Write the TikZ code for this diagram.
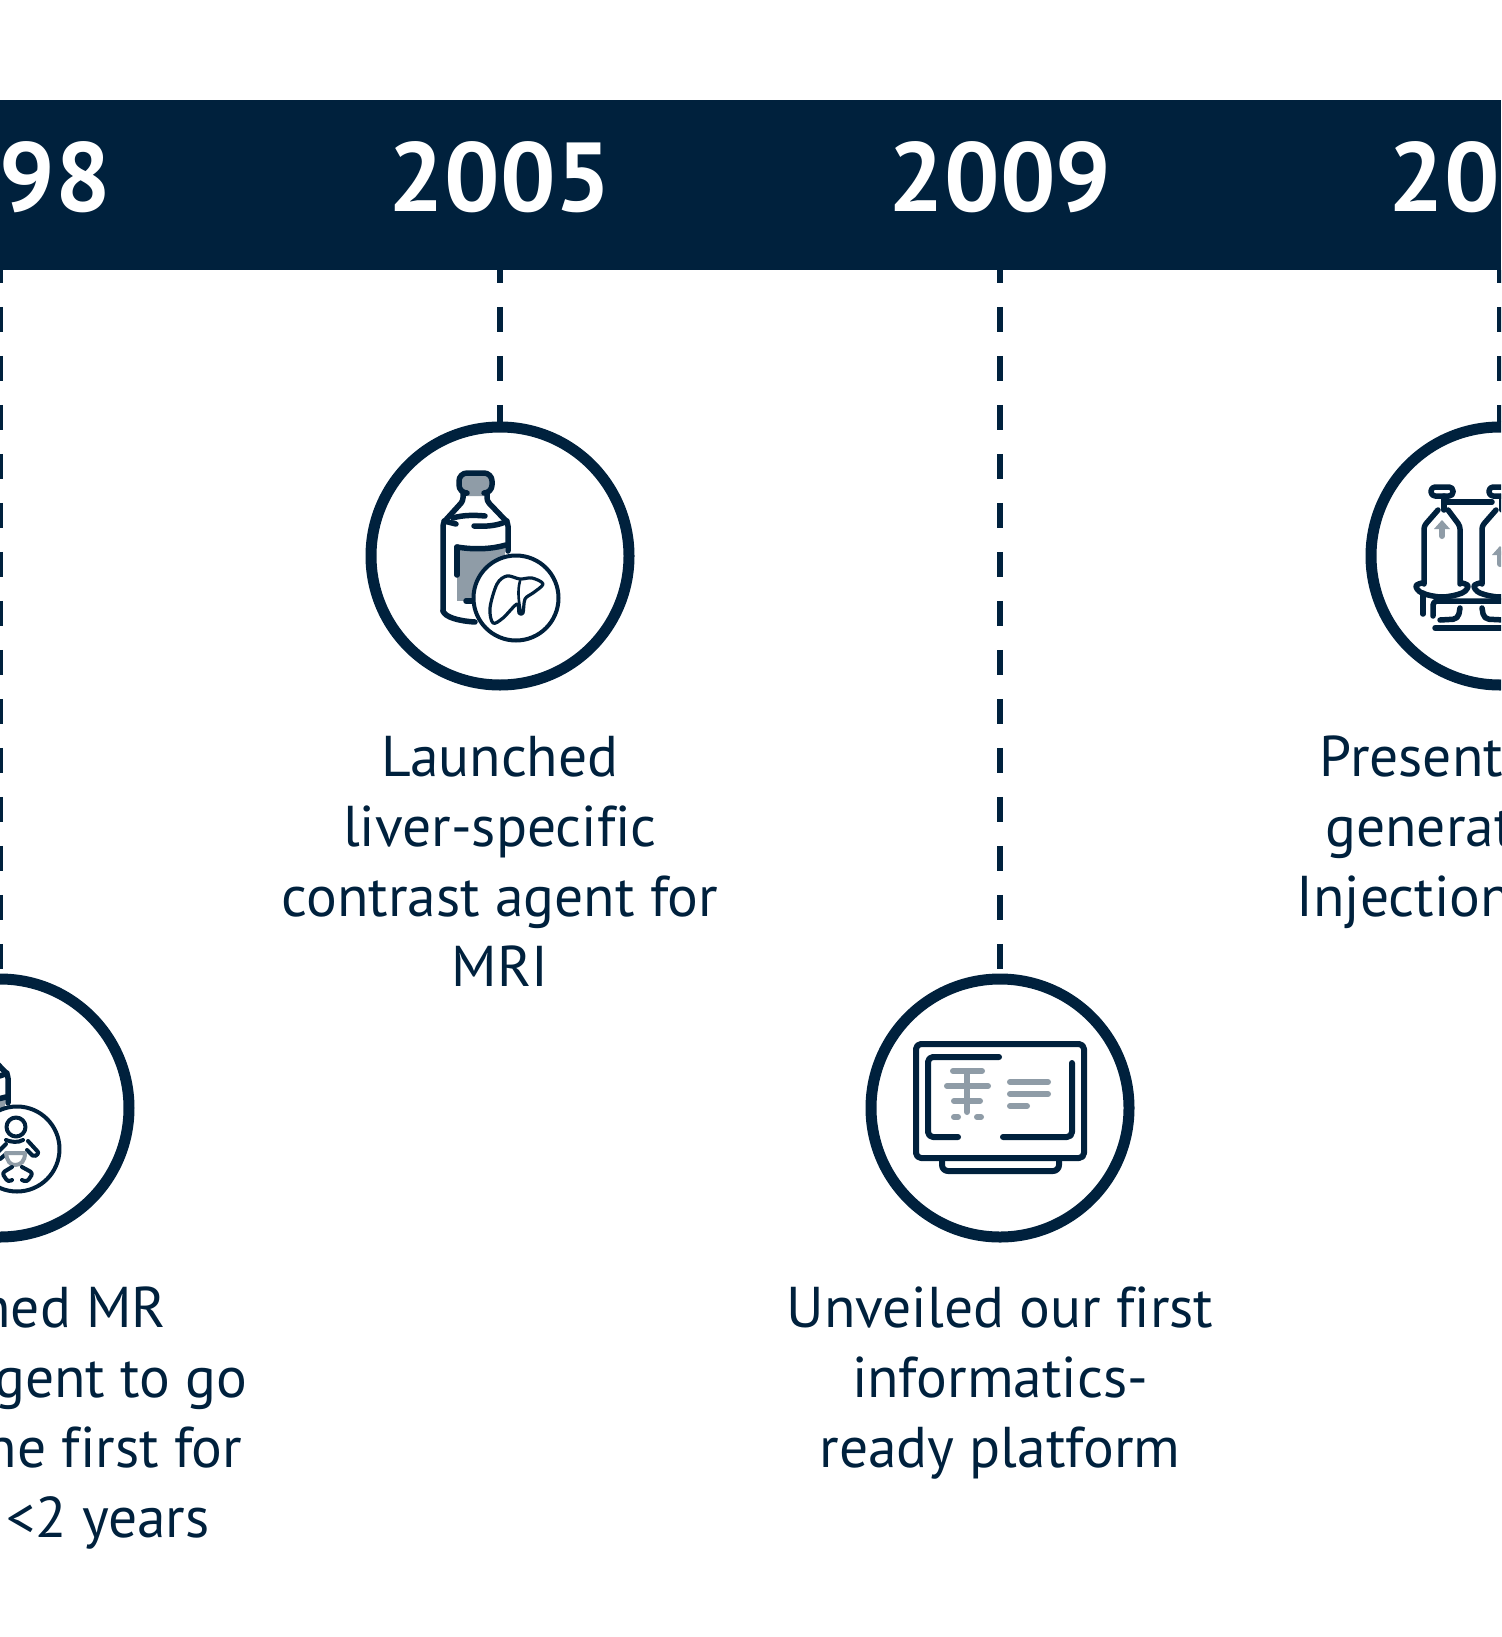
\documentclass[tikz,border=0pt]{standalone}
\usepackage{xcolor}
\usepackage{fontspec}
\setmainfont[Ligatures=NoCommon]{PT Sans}
\definecolor{qqccdd}{RGB}{0,33,61}
\definecolor{ttaabb}{RGB}{143,156,167}
\tikzset{
  yearlabel/.style={text=white,font=\fontsize{98}{98}\selectfont\bfseries,anchor=base},
  milestone/.style={circle,draw=qqccdd,line width=11pt,fill=white,minimum size=258pt,inner sep=0pt},
  milestonetext/.style={text=qqccdd,font=\fontsize{57.5}{70}\selectfont,align=center,anchor=north,inner sep=0pt},
  stem/.style={draw=qqccdd,line width=6.5pt,line cap=butt,dash pattern=on 25pt off 24pt,dash phase=12.5pt},
  iconline/.style={draw=qqccdd,line width=5.5pt},
  badge/.style={circle,draw=qqccdd,line width=4pt,fill=white,minimum size=85pt,inner sep=0pt},
  iconfill/.style={draw=ttaabb,line width=6pt}
}
% vial with its label, drawn round the centre of a milestone
\newcommand{\vialicon}{
\fill [ttaabb] (-43,-10) rectangle (5,45);
\fill [ttaabb,rounded corners=7pt] (-41,-83) rectangle (-8,-60);
\draw [iconline,rounded corners=8pt] (-35,-63) -- (-41,-63) -- (-41,-83) -- (-8,-83) -- (-8,-63) -- (-16,-63);
\draw [iconline,rounded corners=3pt] (-37,-63) -- (-37,-55) -- (-57,-33) -- (-57,55);
\draw [iconline] (-57,55) .. controls (-55,61) and (-42,65) .. (-25,66);
\draw [iconline,rounded corners=3pt] (-13,-63) -- (-13,-55) -- (8,-33) -- (8,-5);
\draw [iconline] (-47,-38) .. controls (-38,-41) and (-25,-41) .. (-15,-40);
\draw [iconline] (-56,-35) -- (-44,-32);
\draw [iconline] (-26,-30) .. controls (-12,-29) and (0,-31) .. (7,-35);
\draw [iconline] (-43,-9) .. controls (-25,-6) and (-8,-7) .. (6,-11);
\draw [iconline] (-43,-9) -- (-43,19);
\draw [iconline] (-34,45) -- (-27,45);
}
% liver inside the badge
\newcommand{\livericon}{
\draw [draw=qqccdd,line width=3.2pt,line join=round] plot [smooth cycle,tension=0.55] coordinates {(-7,67) (-10,52) (-3,28) (7,20) (20,23) (32,22) (43,28) (33,37) (25,43) (23,57) (19,57) (17,48) (3,62)};
\draw [draw=qqccdd,line width=2.6pt] (20,25) .. controls (17,35) and (19,48) .. (21,56);
}
% baby inside the badge
\newcommand{\babyicon}{
\draw [draw=qqccdd,line width=4pt] (16,19) circle (9.5pt);
\draw [draw=qqccdd,line width=4pt] (6,32) .. controls (11,34) and (18,35) .. (23,32);
\draw [draw=qqccdd,line width=4pt,rounded corners=2pt] (28,33) -- (39,45) -- (34,49) -- (27,42);
\draw [draw=qqccdd,line width=4pt,rounded corners=2pt] (6,36) -- (-5,47) -- (-1,52) -- (6,46);
\draw [draw=ttaabb,line width=4pt] (6,45) -- (25,45) .. controls (25,53) and (21,57) .. (15,57) .. controls (10,57) and (7,53) .. (6,45);
\draw [draw=qqccdd,line width=4pt,rounded corners=3pt] (22,59) -- (33,65) -- (27,74) -- (22,72);
\draw [draw=qqccdd,line width=4pt,rounded corners=3pt] (12,59) -- (2,65) -- (8,74) -- (12,72);
}
% one gas cylinder of the injector
\newcommand{\cylindericon}{
\draw [iconline,rounded corners=4pt] (-69,-69) rectangle (-47,-60);
\draw [iconline] (-56,-60) -- (-56,-46);
\draw [iconline,rounded corners=3pt] (-62,-46) -- (-76,-30) -- (-76,28);
\draw [iconline,rounded corners=3pt] (-52,-46) -- (-40,-30) -- (-40,28);
\draw [draw=qqccdd,line width=5.5pt] plot [smooth,tension=0.6] coordinates {(-78,27) (-84,30) (-78,37) (-58,41) (-38,37) (-32,30) (-38,27)};
}
\begin{document}
\begin{tikzpicture}[line cap=round,line join=round,x=1pt,y=-1pt]
\useasboundingbox (0,0) rectangle (1501,1637);
\clip (0,0) rectangle (1501,1637);
\node [fill=qqccdd,anchor=north west,minimum width=1501pt,minimum height=170.5pt,inner sep=0pt] (band) at (0,99.5) {};
\node [yearlabel] (y1998) at (0,212) {1998};
\node [yearlabel] (y2005) at (500,212) {2005};
\node [yearlabel] (y2009) at (1000,212) {2009};
\node [yearlabel] (y2013) at (1500,212) {2013};
\coordinate (s1998) at (band.south -| y1998);
\coordinate (s2005) at (band.south -| y2005);
\coordinate (s2009) at (band.south -| y2009);
\coordinate (s2013) at (band.south -| y2013);
\node [milestone] (c1998) at (0,1108) {};
\node [milestone] (c2005) at (500,556) {};
\node [milestone] (c2009) at (1000,1108) {};
\node [milestone] (c2013) at (1500,556) {};
\draw [stem] (s1998) -- (c1998.north);
\draw [stem] (s2005) -- (c2005.north);
\draw [stem] (s2009) -- (c2009.north);
\draw [stem] (s2013) -- (c2013.north);
\begin{scope}[shift={(c1998.center)}]
\vialicon
\node [badge] (b1998) at (17,41) {};
\babyicon
\end{scope}
\begin{scope}[shift={(c2005.center)}]
\vialicon
\node [badge] (b2005) at (16,42) {};
\livericon
\end{scope}
\begin{scope}[shift={(c2009.center)}]
\draw [iconline,line width=6pt,rounded corners=5pt] (-84,-64) rectangle (84,50);
\draw [iconline,line width=6pt,rounded corners=5pt] (-1,-51) -- (-72,-51) -- (-72,29) -- (-42,29);
\draw [iconline,line width=6pt,rounded corners=5pt] (72,-45) -- (72,29) -- (3,29);
\draw [iconline,line width=6pt,rounded corners=6pt] (-58,53) -- (-58,63) -- (59,63) -- (59,53);
\draw [iconfill] (-47,-37) -- (-18,-37);
\draw [iconfill] (-53,-22) -- (-12,-22);
\draw [iconfill] (-46,-7) -- (-20,-7);
\draw [iconfill] (-33,-37) -- (-33,4);
\draw [iconfill] (-46,9) -- (-42,9);
\draw [iconfill] (-23,9) -- (-19,9);
\draw [iconfill] (10,-26) -- (48,-26);
\draw [iconfill] (10,-14) -- (48,-14);
\draw [iconfill] (10,-2) -- (27,-2);
\end{scope}
\begin{scope}[shift={(c2013.center)}]
\cylindericon
\draw [iconline] (-56,-54) -- (-8,-54);
\draw [iconfill] (-58,-20) -- (-58,-30);
\fill [ttaabb] (-58,-36) -- (-66,-27) -- (-50,-27) -- cycle;
\begin{scope}[shift={(58,0)}]
\cylindericon
\end{scope}
\draw [iconfill] (0,8) -- (0,-2);
\fill [ttaabb] (0,-10) -- (-8,-1) -- (8,-1) -- cycle;
\draw [iconline] (-77,37) -- (-77,58);
\draw [iconline,rounded corners=4pt] (-67,60) -- (-67,45) -- (20,45);
\draw [iconline,rounded corners=5pt] (-60,64) -- (-42,63) -- (-40,52);
\draw [iconline,rounded corners=5pt] (-18,52) -- (-16,63) -- (4,64);
\draw [iconline] (-65,72) -- (20,72);
\end{scope}
\node [milestonetext] (t1998) at (0,1287) {Launched MR\\contrast agent to go\\to enter the first for\\children <2 years};
\node [milestonetext] (t2005) at (500,736) {Launched\\liver-specific\\contrast agent for\\MRI};
\node [milestonetext] (t2009) at (1000,1287) {Unveiled our first\\informatics-\\ready platform};
\node [milestonetext] (t2013) at (1500,736) {Presented new\\generation for\\Injection System};
\end{tikzpicture}
\end{document}
